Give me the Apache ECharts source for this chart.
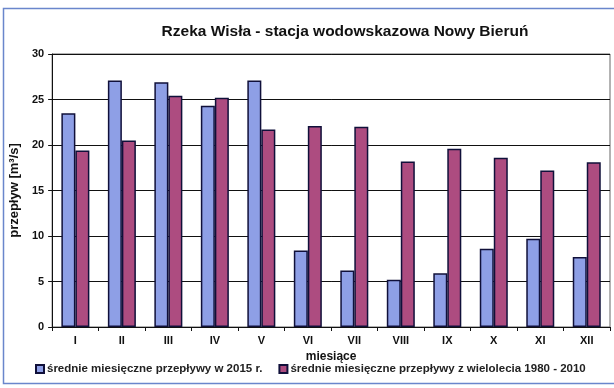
<!DOCTYPE html>
<html><head><meta charset="utf-8">
<script src="https://cdn.jsdelivr.net/npm/echarts@6/dist/echarts.min.js"></script>
<style>html,body{margin:0;padding:0;background:#fff}#c{width:614px;height:388px}</style>
</head><body><div id="c"></div>
<script>
const categories = ['I','II','III','IV','V','VI','VII','VIII','IX','X','XI','XII'];
const flow2015 = [23.5,27.1,26.9,24.3,27.1,8.4,6.2,5.2,5.9,8.6,9.7,7.7];
const flowLongTerm = [19.4,20.5,25.4,25.2,21.7,22.1,22.0,18.2,19.6,18.6,17.2,18.1];
const seriesNames = ['średnie miesięczne przepływy w 2015 r.','średnie miesięczne przepływy z wielolecia 1980 - 2010'];
const yTicks = [0,5,10,15,20,25,30];

const font = 'Liberation Sans, Arial, sans-serif';
const chart = echarts.init(document.getElementById('c'));
chart.setOption({
  animation:false,
  backgroundColor:'#fff',
  title:{text:'Rzeka Wisła - stacja wodowskazowa Nowy Bieruń',left:340,top:19,textAlign:'center',
    textStyle:{fontFamily:font,fontSize:15.5,fontWeight:'bold',color:'#111'}},
  graphic:[{type:'rect',shape:{x:3.5,y:8.5,width:640,height:375},style:{fill:'none',stroke:'#6a86cc',lineWidth:1.5}}],
  grid:{left:51,right:4,top:54,bottom:61,show:true,borderColor:'#666',borderWidth:1},
  legend:{bottom:8,left:30,itemGap:16,itemWidth:8,itemHeight:8,icon:'rect',
    textStyle:{fontFamily:font,fontSize:11.5,fontWeight:'bold',color:'#222',padding:[0,0,0,-2]},
    data:seriesNames},
  xAxis:{type:'category',data:categories,name:'miesiące',nameLocation:'middle',nameGap:22,
    nameTextStyle:{fontFamily:font,fontSize:12,fontWeight:'bold',color:'#111'},
    axisLine:{lineStyle:{color:'#111',width:1}},
    axisTick:{show:true,inside:false,length:4,lineStyle:{color:'#111'}},
    axisLabel:{fontFamily:font,fontSize:11,fontWeight:'bold',color:'#111',margin:8}},
  yAxis:{type:'value',min:0,max:30,interval:5,name:'przepływ [m³/s]',nameLocation:'middle',nameGap:27,
    nameTextStyle:{fontFamily:font,fontSize:13,fontWeight:'bold',color:'#111'},
    axisLine:{show:true,lineStyle:{color:'#111'}},
    axisTick:{show:true,length:4,lineStyle:{color:'#111'}},
    splitLine:{lineStyle:{color:'#111',width:1}},
    axisLabel:{fontFamily:font,fontSize:11,fontWeight:'bold',color:'#111',margin:8,
      formatter:v=>yTicks.includes(v)?String(v):''}},
  series:[
    {name:seriesNames[0],type:'bar',data:flow2015,barWidth:14,barGap:'0%',
      itemStyle:{color:'#8e9fe6',borderColor:'#10103a',borderWidth:1.5}},
    {name:seriesNames[1],type:'bar',data:flowLongTerm,barWidth:14,
      itemStyle:{color:'#ad4c80',borderColor:'#10103a',borderWidth:1.5}}
  ]
});
</script></body></html>
